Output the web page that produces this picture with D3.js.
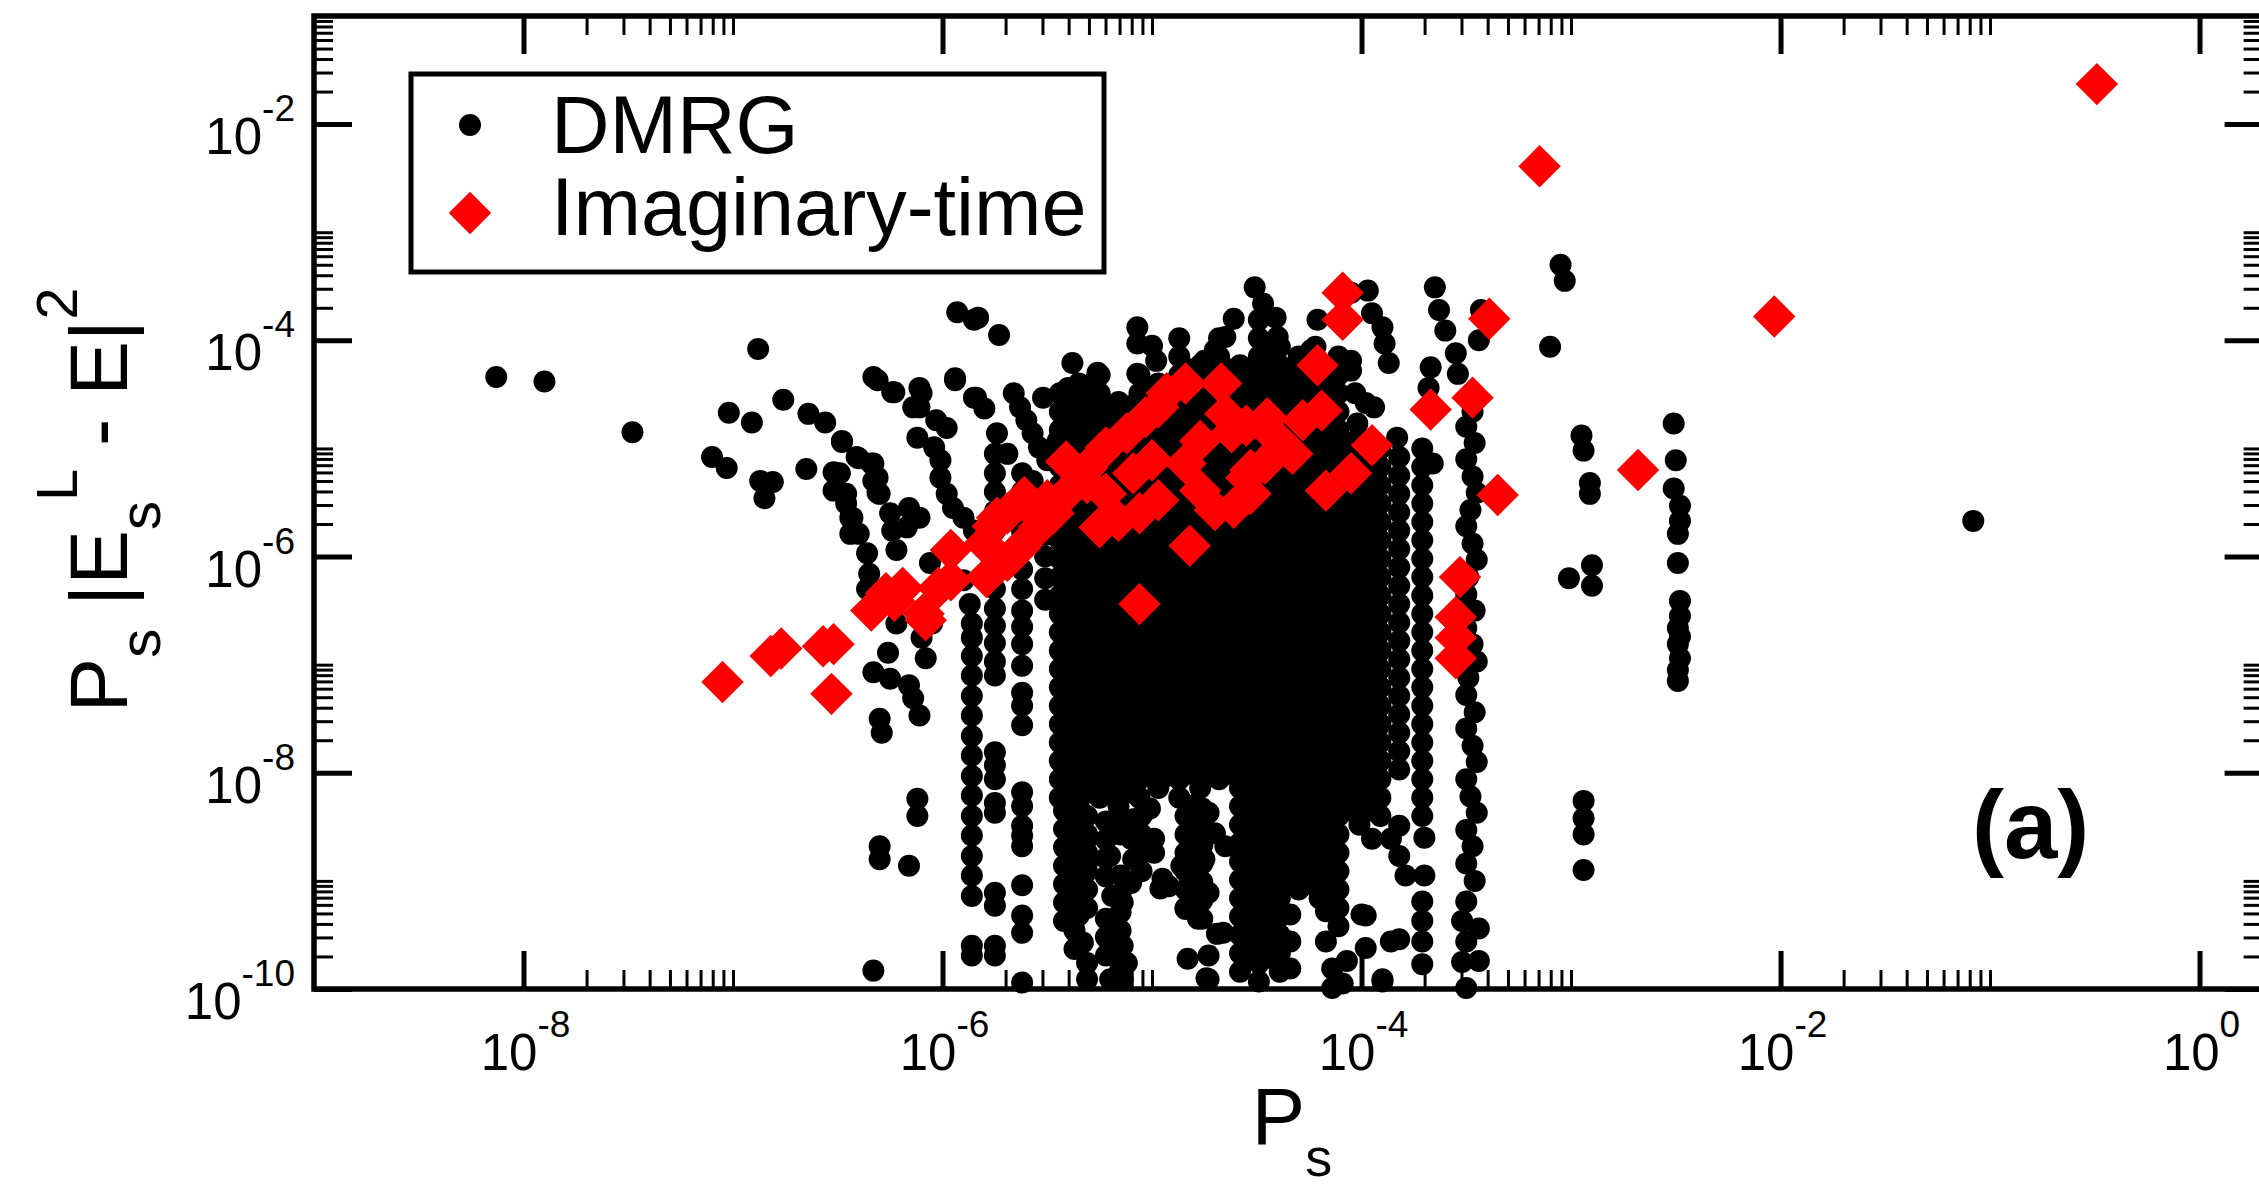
<!DOCTYPE html>
<html>
<head>
<meta charset="utf-8">
<script src="https://cdn.jsdelivr.net/npm/d3@7"></script>
<style>
  body { margin: 0; background: #fff; }
  svg { display: block; font-family: "Liberation Sans", Arial, Helvetica, sans-serif; }
</style>
</head>
<body>
<svg id="chart" width="2259" height="1187"></svg>
<script>
// ---- data (values are log10 exponents) ----
const xMajor = [1e-8, 1e-6, 1e-4, 1e-2, 1]
const xExp = ['-8', '-6', '-4', '-2', '0']
const yMajor = [1e-10, 1e-8, 1e-6, 1e-4, 1e-2]
const yExp = ['-10', '-8', '-6', '-4', '-2']
const legendLabels = ['DMRG', 'Imaginary-time']

// DMRG: single points and tilted streaks  [log10 Ps, log10 value]
const dmrgScattered = [
  [-8.13,-4.34],[-7.90,-4.38],[-7.48,-4.85],[-6.88,-4.08],
  [-7.02,-4.67],[-6.91,-4.76],[-7.10,-5.08],[-7.03,-5.18],[-6.76,-4.55],
  [-6.64,-4.68],[-6.56,-4.76],[-6.48,-4.94],[-6.40,-5.09],[-6.34,-5.14],[-6.33,-5.30],[-6.31,-5.41],[-6.25,-5.60],
  [-6.87,-5.30],[-6.81,-5.31],[-6.85,-5.46],
  [-6.65,-5.19],[-6.52,-5.22],[-6.52,-5.39],[-6.46,-5.51],[-6.44,-5.64],[-6.44,-5.79],
  [-6.31,-4.37],[-6.23,-4.48],[-6.14,-4.62],[-6.10,-4.49],
  [-5.93,-3.74],[-5.83,-3.79],[-5.73,-3.95],[-5.85,-3.81],
  [-5.94,-4.37],[-5.84,-4.53],
  [-6.48,-4.93],[-6.41,-5.08],[-6.33,-5.14],[-6.31,-5.27],[-6.30,-5.42],[-6.24,-5.76],[-6.22,-5.94],
  [-6.49,-5.23],[-6.46,-5.42],[-6.43,-5.64],[-6.40,-5.79],[-6.36,-5.97],[-6.35,-6.16],
  [-6.12,-4.90],[-6.04,-4.99],[-6.01,-5.11],[-6.01,-5.27],[-5.98,-5.42],[-5.95,-5.55],[-5.90,-5.64],[-5.85,-5.76],
  [-6.33,-4.34],[-6.24,-4.48],[-6.11,-4.44],[-6.11,-4.62],[-6.03,-4.74],[-5.98,-4.81],
  [-6.16,-5.55],[-6.17,-5.73],[-6.11,-5.64],[-6.06,-6.06],
  [-5.95,-5.97],[-5.90,-6.22],[-5.87,-6.44],
  [-6.36,-6.30],[-6.33,-6.45],[-6.22,-6.62],[-6.10,-6.75],[-6.05,-6.62],
  [-6.26,-6.89],[-6.33,-7.07],[-6.25,-7.13],[-6.16,-7.19],[-6.14,-7.31],[-6.11,-7.47],[-6.08,-6.94],[-6.30,-7.50],[-6.29,-7.63],
  [-6.12,-8.24],[-6.12,-8.40],[-6.30,-8.68],[-6.30,-8.80],[-6.16,-8.86],[-6.33,-9.83],
  [-5.94,-4.35],[-5.85,-4.53],[-5.80,-4.63],[-5.74,-4.86],[-5.69,-5.05],[-5.62,-5.23],
  [-5.66,-4.49],[-5.63,-4.62],[-5.60,-4.74],[-5.57,-4.86],[-5.54,-4.99],
  [-5.38,-4.21],[-5.26,-4.30],[-5.28,-4.39],[-5.52,-4.53],
  [-5.07,-3.88],[-5.07,-4.03],[-5.00,-4.05],[-4.98,-4.19],[-5.07,-4.31],
  [-5.57,-5.30],[-5.50,-5.11],[-5.45,-4.93],[-5.38,-4.81],[-5.31,-4.68],
  [-4.51,-3.51],[-4.47,-3.66],[-4.41,-3.79],[-4.40,-3.97],[-4.61,-3.80],[-4.65,-3.97],[-4.70,-4.09],[-4.75,-4.19],
  [-4.21,-3.81],[-4.22,-4.06],[-4.05,-3.56],[-3.97,-3.54],[-3.95,-3.75],[-3.90,-3.88],[-3.89,-4.03],[-3.87,-4.21],
  [-4.05,-4.19],[-4.05,-4.28],[-4.03,-4.49],[-3.98,-4.58],[-4.02,-4.77],[-3.94,-4.62],
  [-4.57,-4.28],[-4.30,-4.34],[-4.24,-4.09],
  [-3.65,-3.51],[-3.63,-3.72],[-3.60,-3.91],[-3.55,-4.12],[-3.54,-4.31],[-3.67,-4.25],[-3.68,-4.44],
  [-3.43,-3.72],[-3.44,-4.00],
  [-3.83,-4.90],[-3.66,-5.14],
  [-3.47,-4.66],[-3.50,-4.80],[-3.46,-4.95],[-3.50,-5.10],[-3.47,-5.26],[-3.45,-5.41],[-3.48,-5.57],[-3.50,-5.72],
  [-3.47,-5.88],[-3.45,-6.03],[-3.49,-6.19],[-3.50,-6.35],[-3.46,-6.50],[-3.50,-6.66],[-3.47,-6.81],[-3.45,-6.97],
  [-3.49,-7.12],[-3.50,-7.28],[-3.46,-7.44],[-3.50,-7.59],[-3.47,-7.75],[-3.45,-7.90],[-3.50,-8.06],[-3.48,-8.22],
  [-3.45,-8.37],[-3.50,-8.53],[-3.47,-8.68],[-3.50,-8.84],[-3.46,-9.00],[-3.50,-9.19],[-3.52,-9.37],[-3.50,-9.56],
  [-3.52,-9.75],[-3.50,-9.99],[-3.44,-9.44],[-3.44,-9.74],
  [-3.05,-3.30],[-3.03,-3.45],[-3.10,-4.06],
  [-2.95,-4.88],[-2.94,-5.02],[-2.91,-5.32],[-2.91,-5.42],[-3.01,-6.20],[-2.90,-6.08],[-2.90,-6.27],
  [-2.94,-8.26],[-2.94,-8.42],[-2.94,-8.57],[-2.94,-8.90],
  [-2.51,-4.77],[-2.50,-5.11],[-2.51,-5.37],[-2.48,-5.53],[-2.48,-5.67],[-2.49,-5.79],[-2.49,-6.06],[-2.48,-6.41],
  [-2.48,-6.55],[-2.49,-6.66],[-2.48,-6.74],[-2.49,-6.81],[-2.48,-6.94],[-2.49,-7.05],[-2.49,-7.15],
  [-1.08,-5.67],
  [-5.39,-8.49],[-5.38,-8.65],[-5.31,-8.61],[-5.30,-8.80],[-5.38,-9.05],[-5.35,-9.20],[-5.35,-9.32],[-5.33,-9.57],
  [-5.31,-9.76],[-5.31,-9.91],[-5.20,-8.77],[-5.19,-9.14],[-5.14,-9.20],[-5.09,-8.43],[-5.10,-8.61],[-5.09,-8.80],
  [-5.10,-9.02],[-5.19,-9.51],[-5.14,-9.60],[-5.12,-9.76],[-5.20,-9.91],[-5.14,-9.91],[-5.01,-8.33],[-4.99,-8.61],
  [-4.99,-8.74],[-4.96,-9.07],[-4.95,-8.98],
  [-4.93,-8.03],[-4.92,-9.05],[-4.86,-8.86],[-4.84,-9.26],[-4.78,-9.35],[-4.73,-9.11],[-4.75,-8.80],[-4.65,-8.68],
  [-4.66,-9.48],[-4.73,-9.69],[-4.83,-9.72],[-4.73,-9.91],[-4.81,-8.43],[-4.73,-8.37],[-4.70,-8.56],[-4.80,-8.30],
  [-4.78,-9.34],[-4.74,-9.90],[-4.69,-9.49],
  [-4.34,-9.31],[-4.34,-9.56],[-4.34,-9.81],[-4.17,-9.28],[-4.17,-9.56],[-4.14,-9.81],[-4.14,-9.99],
  [-4.07,-9.74],[-4.09,-9.95],[-4.00,-9.31],[-3.98,-9.62],[-3.98,-9.32],
  [-3.90,-9.93],[-3.86,-9.56],[-3.90,-9.91],[-3.82,-9.54],
  [-3.79,-8.95],[-3.82,-8.77],[-3.86,-8.61],[-3.95,-8.61],[-3.82,-8.49],
  [-3.70,-8.60],[-3.70,-8.95],[-3.71,-9.19],[-3.71,-9.37],[-3.71,-9.56],[-3.71,-9.77]
]

// DMRG: near-vertical streaks  [log10 Ps, [log10 values]]
const dmrgColumns = [
  [-5.86, [-6.62,-6.75,-6.92,-7.10,-7.29,-7.47,-7.66,-7.84,-8.03,-8.21,-8.40,-8.58,-8.77,-8.95,-9.14,-9.60,-9.69]],
  [-5.75, [-5.05,-5.23,-5.40,-5.58,-5.76,-5.94,-6.12,-6.30,-6.48,-6.64,-6.80,-6.97,-7.10,-7.81,-7.93,-8.06,-8.28,-8.37,-9.11,-9.23,-9.60,-9.69]],
  [-5.62, [-5.40,-5.58,-5.77,-5.94,-6.12,-6.30,-6.50,-6.65,-6.81,-7.01,-7.26,-7.38,-7.56,-8.18,-8.31,-8.49,-8.58,-8.68,-9.04,-9.32,-9.48,-9.94]],
  [-5.51, [-5.60,-5.80,-6.00,-6.20,-6.40]],
  [-5.44, [-4.49,-4.66,-4.83,-5.00,-5.17,-5.34,-5.51,-5.68,-5.85,-6.02,-6.19,-6.36,-6.53,-6.70,-6.87,-7.04,-7.21,-7.38,-7.55,-7.72,-7.89,-8.06,-8.23]],
  [-5.42, [-8.35,-8.52,-8.69,-8.86,-9.03,-9.20,-9.37]],
  [-5.40, [-4.44,-4.61,-4.78,-4.95,-5.12,-5.29,-5.46,-5.63,-5.80,-5.97,-6.14,-6.31,-6.48,-6.65,-6.82,-6.99,-7.16,-7.33,-7.50,-7.67,-7.84,-8.01,-8.18]],
  [-5.37, [-8.44,-8.61,-8.78,-8.95,-9.12,-9.29,-9.46,-9.63]],
  [-5.35, [-4.40,-4.57,-4.74,-4.91,-5.08,-5.25,-5.42,-5.59,-5.76,-5.93,-6.10,-6.27,-6.44,-6.61,-6.78,-6.95,-7.12,-7.29,-7.46,-7.63,-7.80,-7.97,-8.14,-8.31]],
  [-5.31, [-8.40,-8.57,-8.74,-8.91,-9.08,-9.25]],
  [-5.30, [-4.44,-4.61,-4.78,-4.95,-5.12,-5.29,-5.46,-5.63,-5.80,-5.97,-6.14,-6.31,-6.48,-6.65,-6.82,-6.99,-7.16,-7.33,-7.50,-7.67,-7.84,-8.01,-8.18]],
  [-5.25, [-4.32,-4.49,-4.66,-4.83,-5.00,-5.17,-5.34,-5.51,-5.68,-5.85,-6.02,-6.19,-6.36,-6.53,-6.70,-6.87,-7.04,-7.21,-7.38,-7.55,-7.72,-7.89,-8.06,-8.23]],
  [-5.22, [-8.45,-8.62,-8.79,-8.96,-9.35,-9.52,-9.69]],
  [-5.21, [-4.61,-4.78,-4.95,-5.12,-5.29,-5.46,-5.63,-5.80,-5.97,-6.14,-6.31,-6.48,-6.65,-6.82,-6.99,-7.16,-7.33,-7.50,-7.67,-7.84,-8.01,-8.18]],
  [-5.16, [-4.57,-4.74,-4.91,-5.08,-5.25,-5.42,-5.59,-5.76,-5.93,-6.10,-6.27,-6.44,-6.61,-6.78,-6.95,-7.12,-7.29,-7.46,-7.63,-7.80,-7.97,-8.14,-8.31]],
  [-5.15, [-8.40,-8.57,-8.95,-9.12,-9.29,-9.46,-9.63,-9.80]],
  [-5.11, [-4.61,-4.78,-4.95,-5.12,-5.29,-5.46,-5.63,-5.80,-5.97,-6.14,-6.31,-6.48,-6.65,-6.82,-6.99,-7.16,-7.33,-7.50,-7.67,-7.84,-8.01,-8.18]],
  [-5.06, [-4.32,-4.49,-4.66,-4.83,-5.00,-5.17,-5.34,-5.51,-5.68,-5.85,-6.02,-6.19,-6.36,-6.53,-6.70,-6.87,-7.04,-7.21,-7.38,-7.55,-7.72,-7.89,-8.06,-8.23]],
  [-5.05, [-8.40,-8.57,-8.74,-8.91]],
  [-5.01, [-4.44,-4.61,-4.78,-4.95,-5.12,-5.29,-5.46,-5.63,-5.80,-5.97,-6.14,-6.31,-6.48,-6.65,-6.82,-6.99,-7.16,-7.33,-7.50,-7.67,-7.84,-8.01]],
  [-4.97, [-4.40,-4.57,-4.74,-4.91,-5.08,-5.25,-5.42,-5.59,-5.76,-5.93,-6.10,-6.27,-6.44,-6.61,-6.78,-6.95,-7.12,-7.29,-7.46,-7.63,-7.80,-7.97,-8.14]],
  [-4.92, [-4.44,-4.61,-4.78,-4.95,-5.12,-5.29,-5.46,-5.63,-5.80,-5.97,-6.14,-6.31,-6.48,-6.65,-6.82,-6.99,-7.16,-7.33,-7.50,-7.67,-7.84,-8.01]],
  [-4.87, [-3.98,-4.15,-4.32,-4.49,-4.66,-4.83,-5.00,-5.17,-5.34,-5.51,-5.68,-5.85,-6.02,-6.19,-6.36,-6.53,-6.70,-6.87,-7.04,-7.21,-7.38,-7.55,-7.72,-7.89,-8.06,-8.23]],
  [-4.84, [-8.40,-8.57,-8.74,-8.91,-9.08,-9.25]],
  [-4.82, [-4.27,-4.44,-4.61,-4.78,-4.95,-5.12,-5.29,-5.46,-5.63,-5.80,-5.97,-6.14,-6.31,-6.48,-6.65,-6.82,-6.99,-7.16,-7.33,-7.50,-7.67,-7.84,-8.01]],
  [-4.77, [-4.23,-4.40,-4.57,-4.74,-4.91,-5.08,-5.25,-5.42,-5.59,-5.76,-5.93,-6.10,-6.27,-6.44,-6.61,-6.78,-6.95,-7.12,-7.29,-7.46,-7.63,-7.80,-7.97,-8.14]],
  [-4.76, [-8.33,-8.50,-8.67,-8.84,-9.01,-9.18,-9.35]],
  [-4.72, [-4.27,-4.44,-4.61,-4.78,-4.95,-5.12,-5.29,-5.46,-5.63,-5.80,-5.97,-6.14,-6.31,-6.48,-6.65,-6.82,-6.99,-7.16,-7.33,-7.50,-7.67,-7.84,-8.01]],
  [-4.68, [-3.98,-4.15,-4.32,-4.49,-4.66,-4.83,-5.00,-5.17,-5.34,-5.51,-5.68,-5.85,-6.02,-6.19,-6.36,-6.53,-6.70,-6.87,-7.04,-7.21,-7.38,-7.55,-7.72,-7.89,-8.06]],
  [-4.63, [-4.27,-4.44,-4.61,-4.78,-4.95,-5.12,-5.29,-5.46,-5.63,-5.80,-5.97,-6.14,-6.31,-6.48,-6.65,-6.82,-6.99,-7.16,-7.33,-7.50,-7.67,-7.84,-8.01]],
  [-4.58, [-4.23,-4.40,-4.57,-4.74,-4.91,-5.08,-5.25,-5.42,-5.59,-5.76,-5.93,-6.10,-6.27,-6.44,-6.61,-6.78,-6.95,-7.12,-7.29,-7.46,-7.63,-7.80,-7.97,-8.14,-8.31,-8.48,-8.65,-8.82,-8.99,-9.16,-9.33,-9.50,-9.67,-9.84]],
  [-4.54, [-4.27,-4.44,-4.61,-4.78,-4.95,-5.12,-5.29,-5.46,-5.63,-5.80,-5.97,-6.14,-6.31,-6.48,-6.65,-6.82,-6.99,-7.16,-7.33,-7.50,-7.67,-7.84,-8.01,-8.18,-8.35,-8.52,-8.69,-8.86,-9.03,-9.20,-9.37,-9.54,-9.71]],
  [-4.49, [-3.81,-3.98,-4.15,-4.32,-4.49,-4.66,-4.83,-5.00,-5.17,-5.34,-5.51,-5.68,-5.85,-6.02,-6.19,-6.36,-6.53,-6.70,-6.87,-7.04,-7.21,-7.38,-7.55,-7.72,-7.89,-8.06,-8.23,-8.40,-8.57,-8.74,-8.91,-9.08,-9.25,-9.42,-9.59,-9.76,-9.93]],
  [-4.44, [-4.10,-4.27,-4.44,-4.61,-4.78,-4.95,-5.12,-5.29,-5.46,-5.63,-5.80,-5.97,-6.14,-6.31,-6.48,-6.65,-6.82,-6.99,-7.16,-7.33,-7.50,-7.67,-7.84,-8.01,-8.18,-8.35,-8.52,-8.69,-8.86,-9.03,-9.20,-9.37,-9.54,-9.71]],
  [-4.39, [-4.06,-4.23,-4.40,-4.57,-4.74,-4.91,-5.08,-5.25,-5.42,-5.59,-5.76,-5.93,-6.10,-6.27,-6.44,-6.61,-6.78,-6.95,-7.12,-7.29,-7.46,-7.63,-7.80,-7.97,-8.14,-8.31,-8.48,-8.65,-8.82,-8.99,-9.16,-9.33,-9.50,-9.67,-9.84]],
  [-4.35, [-4.27,-4.44,-4.61,-4.78,-4.95,-5.12,-5.29,-5.46,-5.63,-5.80,-5.97,-6.14,-6.31,-6.48,-6.65,-6.82,-6.99,-7.16,-7.33,-7.50,-7.67,-7.84,-8.01,-8.18,-8.35,-8.52,-8.69,-8.86,-9.03]],
  [-4.30, [-4.15,-4.32,-4.49,-4.66,-4.83,-5.00,-5.17,-5.34,-5.51,-5.68,-5.85,-6.02,-6.19,-6.36,-6.53,-6.70,-6.87,-7.04,-7.21,-7.38,-7.55,-7.72,-7.89,-8.06,-8.23,-8.40,-8.57,-8.74,-8.91,-9.08]],
  [-4.25, [-4.27,-4.44,-4.61,-4.78,-4.95,-5.12,-5.29,-5.46,-5.63,-5.80,-5.97,-6.14,-6.31,-6.48,-6.65,-6.82,-6.99,-7.16,-7.33,-7.50,-7.67,-7.84,-8.01,-8.18,-8.35,-8.52,-8.69,-8.86,-9.03]],
  [-4.20, [-4.23,-4.40,-4.57,-4.74,-4.91,-5.08,-5.25,-5.42,-5.59,-5.76,-5.93,-6.10,-6.27,-6.44,-6.61,-6.78,-6.95,-7.12,-7.29,-7.46,-7.63,-7.80,-7.97,-8.14,-8.31,-8.48,-8.65,-8.82,-8.99,-9.16]],
  [-4.16, [-4.27,-4.44,-4.61,-4.78,-4.95,-5.12,-5.29,-5.46,-5.63,-5.80,-5.97,-6.14,-6.31,-6.48,-6.65,-6.82,-6.99,-7.16,-7.33,-7.50,-7.67,-7.84,-8.01,-8.18,-8.35,-8.52,-8.69,-8.86,-9.03,-9.20]],
  [-4.11, [-4.15,-4.32,-4.49,-4.66,-4.83,-5.00,-5.17,-5.34,-5.51,-5.68,-5.85,-6.02,-6.19,-6.36,-6.53,-6.70,-6.87,-7.04,-7.21,-7.38,-7.55,-7.72,-7.89,-8.06,-8.23,-8.40,-8.57,-8.74,-8.91,-9.08,-9.25,-9.42]],
  [-4.06, [-4.95,-5.12,-5.29,-5.46,-5.63,-5.80,-5.97,-6.14,-6.31,-6.48,-6.65,-6.82,-6.99,-7.16,-7.33,-7.50,-7.67,-7.84,-8.01,-8.18,-8.35]],
  [-4.01, [-4.91,-5.08,-5.25,-5.42,-5.59,-5.76,-5.93,-6.10,-6.27,-6.44,-6.61,-6.78,-6.95,-7.12,-7.29,-7.46,-7.63,-7.80,-7.97,-8.14,-8.31,-8.48]],
  [-3.96, [-5.12,-5.29,-5.46,-5.63,-5.80,-5.97,-6.14,-6.31,-6.48,-6.65,-6.82,-6.99,-7.16,-7.33,-7.50,-7.67,-7.84,-8.01,-8.18,-8.35]],
  [-3.91, [-5.00,-5.17,-5.34,-5.51,-5.68,-5.85,-6.02,-6.19,-6.36,-6.53,-6.70,-6.87,-7.04,-7.21,-7.38,-7.55,-7.72,-7.89,-8.06,-8.23,-8.40]],
  [-3.82, [-5.08,-5.25,-5.42,-5.59,-5.76,-5.93,-6.10,-6.27,-6.44,-6.61,-6.78,-6.95,-7.12,-7.29,-7.46,-7.63,-7.80,-7.97]],
  [-3.71, [-5.00,-5.17,-5.34,-5.51,-5.68,-5.85,-6.02,-6.19,-6.36,-6.53,-6.70,-6.87,-7.04,-7.21,-7.38,-7.55,-7.72,-7.89,-8.06,-8.23,-8.40]]
]

// Imaginary-time  [log10 Ps, log10 value]
const imagTime = [
  [-0.49,-1.63],[-3.15,-2.39],[-2.03,-3.78],[-2.68,-5.20],[-3.35,-5.43],[-3.39,-3.80],[-3.47,-4.53],[-3.67,-4.64],
  [-4.09,-3.56],[-4.09,-3.81],[-4.21,-4.23],[-4.19,-4.65],[-3.95,-4.97],[-4.05,-5.23],[-4.17,-5.39],
  [-3.53,-6.19],[-3.55,-6.56],[-3.55,-6.75],[-3.55,-6.94],
  [-5.06,-6.44],[-4.82,-5.90],
  [-7.05,-7.16],[-6.82,-6.92],[-6.77,-6.85],[-6.57,-6.83],[-6.52,-6.81],[-6.53,-7.27],
  [-6.34,-6.50],[-6.23,-6.41],[-6.19,-6.29],[-6.08,-6.59],[-6.27,-6.34],[-6.02,-6.29],[-6.09,-6.53],[-5.96,-6.22],
  [-5.96,-5.94],[-5.80,-5.88],[-5.74,-5.64],
  [-5.79,-6.19],[-5.69,-6.04],[-5.63,-5.92],[-5.54,-5.73],[-5.47,-5.60],
  [-5.69,-5.60],[-5.60,-5.51],[-5.50,-5.48],[-5.41,-5.42],[-5.76,-5.72],[-5.61,-5.45],
  [-5.31,-5.18],[-5.22,-4.99],[-5.12,-4.86],[-5.03,-4.71],[-4.97,-4.62],
  [-5.25,-5.73],[-5.16,-5.67],[-5.06,-5.60],[-4.97,-5.48],[-5.22,-5.42],[-5.09,-5.23],[-5.00,-5.11],
  [-5.41,-5.12],[-5.31,-5.32],[-4.93,-4.49],
  [-4.84,-4.40],[-4.67,-4.40],[-4.65,-4.68],[-4.43,-4.86],[-4.33,-5.05],[-4.46,-5.14],[-4.55,-5.27],[-4.61,-5.55],
  [-4.77,-5.39],[-4.84,-5.14],[-4.62,-4.85],[-4.55,-4.79],[-4.45,-4.72],[-4.28,-4.74],
  [-4.77,-4.93],[-4.53,-5.20],[-4.70,-5.57],[-4.53,-5.42]
]

// ---- layout ----
const svg = d3.select('#chart')
const x = d3.scaleLog().domain([1e-9, 2]).range([314, 2262.6])
const y = d3.scaleLog().domain([1e-10, 1e-1]).range([989, 16])
const plotLeft = x.range()[0], plotRight = x.range()[1]
const plotTop = y.range()[1], plotBottom = y.range()[0]

svg.append('rect').attr('width', 2259).attr('height', 1187).attr('fill', '#fff')

const minorOf = (majors, scale) => {
  const [a, b] = scale.domain()
  return majors.flatMap(m => d3.range(2, 11).map(n => m * n)).filter(v => v > a && v < b)
}

function styleAxis(g, w) {
  g.select('.domain').remove()
  g.selectAll('line').attr('stroke', '#000').attr('stroke-width', w)
}

const axes = svg.append('g')
const xMinor = minorOf(xMajor, x), yMinor = minorOf(yMajor, y)

// inward ticks on all four sides
axes.append('g').attr('transform', `translate(0,${plotBottom})`)
  .call(d3.axisBottom(x).tickValues(xMinor).tickSize(-19).tickFormat('')).call(styleAxis, 3)
axes.append('g').attr('transform', `translate(0,${plotBottom})`)
  .call(d3.axisBottom(x).tickValues(xMajor).tickSize(-38).tickFormat('')).call(styleAxis, 5)
axes.append('g').attr('transform', `translate(0,${plotTop})`)
  .call(d3.axisTop(x).tickValues(xMinor).tickSize(-19).tickFormat('')).call(styleAxis, 3)
axes.append('g').attr('transform', `translate(0,${plotTop})`)
  .call(d3.axisTop(x).tickValues(xMajor).tickSize(-38).tickFormat('')).call(styleAxis, 5)
axes.append('g').attr('transform', `translate(${plotLeft},0)`)
  .call(d3.axisLeft(y).tickValues(yMinor).tickSize(-19).tickFormat('')).call(styleAxis, 3)
axes.append('g').attr('transform', `translate(${plotLeft},0)`)
  .call(d3.axisLeft(y).tickValues(yMajor).tickSize(-38).tickFormat('')).call(styleAxis, 5)
axes.append('g').attr('transform', `translate(${plotRight},0)`)
  .call(d3.axisRight(y).tickValues(yMinor).tickSize(-19).tickFormat('')).call(styleAxis, 3)
axes.append('g').attr('transform', `translate(${plotRight},0)`)
  .call(d3.axisRight(y).tickValues(yMajor).tickSize(-38).tickFormat('')).call(styleAxis, 5)

axes.append('rect')
  .attr('x', plotLeft).attr('y', plotTop)
  .attr('width', plotRight - plotLeft).attr('height', plotBottom - plotTop)
  .attr('fill', 'none').attr('stroke', '#000').attr('stroke-width', 5.5)

// tick labels: 10 with superscript exponent
axes.selectAll('text.ylab').data(yMajor).join('text')
  .attr('class', 'ylab')
  .attr('x', 295).attr('y', d => y(d) + 30)
  .attr('text-anchor', 'end').attr('font-size', 51)
  .each(function(d, i) {
    const t = d3.select(this)
    t.append('tspan').text('10')
    t.append('tspan').attr('dy', -33).attr('font-size', 37).text(yExp[i])
  })

axes.selectAll('text.xlab').data(xMajor).join('text')
  .attr('class', 'xlab')
  .attr('x', d => x(d) + 2).attr('y', plotBottom + 81)
  .attr('text-anchor', 'middle').attr('font-size', 51)
  .each(function(d, i) {
    const t = d3.select(this)
    t.append('tspan').text('10')
    t.append('tspan').attr('dy', -33).attr('font-size', 37).text(xExp[i])
  })

// axis titles
const xt = svg.append('text').attr('x', 1292).attr('y', 1144)
  .attr('text-anchor', 'middle').attr('font-size', 80)
xt.append('tspan').text('P')
xt.append('tspan').attr('dy', 32).attr('font-size', 54).text('s')

const yt = svg.append('text').attr('transform', 'translate(127,500) rotate(-90)')
  .attr('text-anchor', 'middle').attr('font-size', 82)
yt.append('tspan').text('P')
yt.append('tspan').attr('dy', 33).attr('font-size', 58).text('s')
yt.append('tspan').attr('dy', -33).text('  |E')
yt.append('tspan').attr('dy', 33).attr('font-size', 58).text('s')
yt.append('tspan').attr('dy', -83).attr('font-size', 58).text('L')
yt.append('tspan').attr('dy', 50).text(' - E|')
yt.append('tspan').attr('dy', -50).attr('font-size', 58).text('2')

// ---- marks ----
const dmrg = dmrgScattered.concat(dmrgColumns.flatMap(([p, es]) => es.map(e => [p, e])))

svg.append('g').attr('class', 'dmrg')
  .selectAll('circle').data(dmrg).join('circle')
    .attr('cx', d => x(10 ** d[0]))
    .attr('cy', d => y(10 ** d[1]))
    .attr('r', 11)
    .attr('fill', '#000')

const diamond = d3.symbol(d3.symbolSquare, 900)
svg.append('g').attr('class', 'imag')
  .selectAll('path').data(imagTime).join('path')
    .attr('d', diamond)
    .attr('transform', d => `translate(${x(10 ** d[0])},${y(10 ** d[1])}) rotate(45)`)
    .attr('fill', '#ff0000')

// ---- legend ----
const lg = svg.append('g')
lg.append('rect').attr('x', 411).attr('y', 74).attr('width', 693).attr('height', 198)
  .attr('fill', '#fff').attr('stroke', '#000').attr('stroke-width', 5)
lg.append('circle').attr('cx', 470).attr('cy', 125).attr('r', 11).attr('fill', '#000')
lg.append('path').attr('d', diamond).attr('transform', 'translate(470,213) rotate(45)').attr('fill', '#ff0000')
lg.selectAll('text').data(legendLabels).join('text')
  .attr('x', 551).attr('y', (d, i) => i ? 235 : 153)
  .attr('font-size', 81)
  .text(d => d)

// panel label
svg.append('text').attr('x', 1972).attr('y', 858)
  .attr('font-size', 96).attr('font-weight', 'bold')
  .text('(a)')
</script>
</body>
</html>
